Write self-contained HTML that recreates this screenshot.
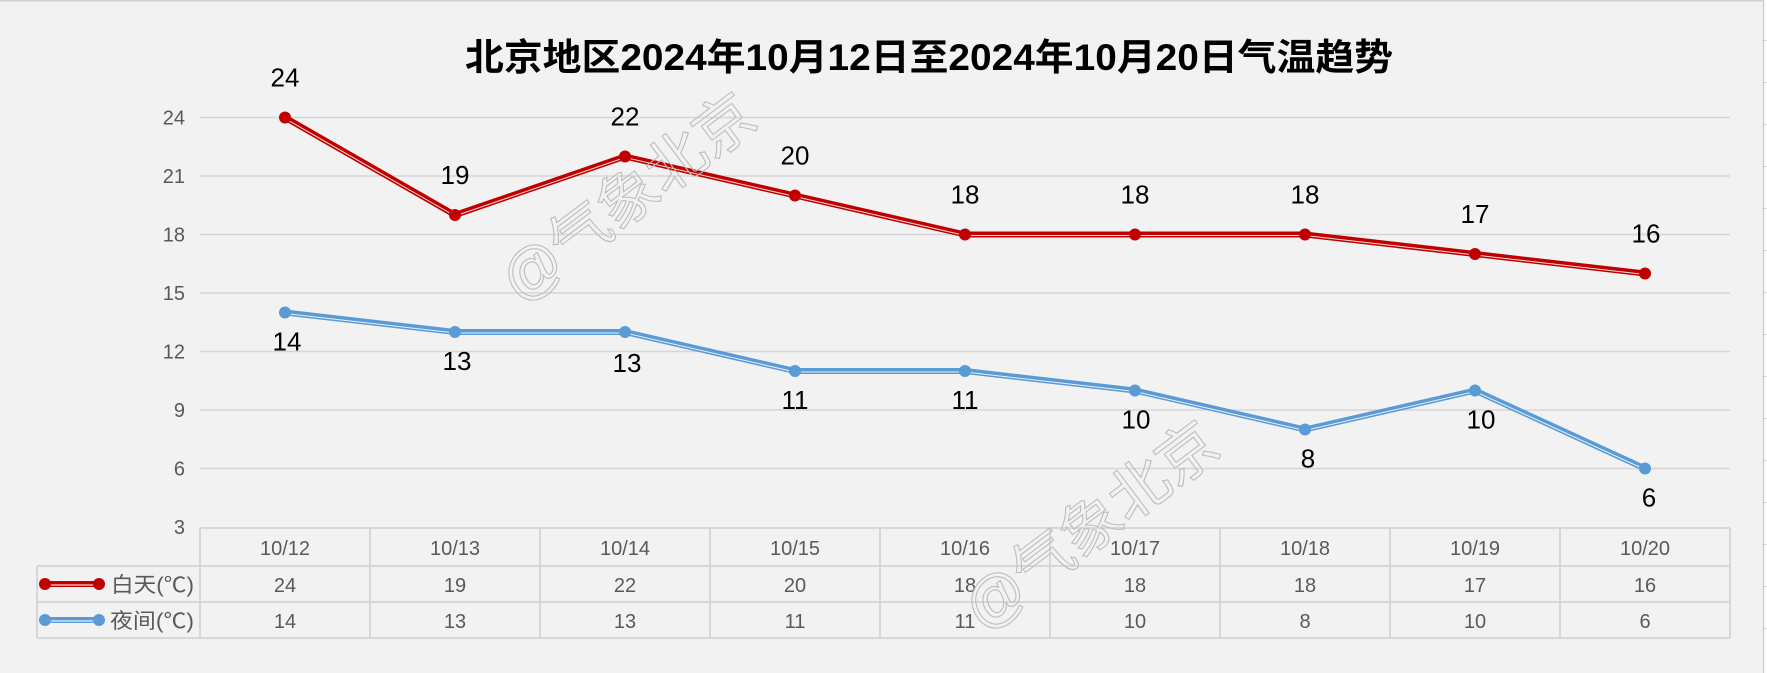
<!DOCTYPE html>
<html><head><meta charset="utf-8"><style>
html,body{margin:0;padding:0;background:#f2f2f2;}
svg{display:block;}
text{font-family:"Liberation Sans","Noto Sans CJK SC",sans-serif;}
</style></head><body>
<svg width="1767" height="673" viewBox="0 0 1767 673" xmlns="http://www.w3.org/2000/svg">
<rect x="0" y="0" width="1767" height="673" fill="#f2f2f2"/>
<line x1="0" y1="0.8" x2="1764" y2="0.8" stroke="#d0d0d0" stroke-width="1.5"/>
<rect x="1764" y="0" width="3" height="673" fill="#ffffff"/>
<line x1="1763.5" y1="0" x2="1763.5" y2="673" stroke="#cfcfcf" stroke-width="1.5"/>
<g stroke="#d4d4d4" stroke-width="1">
<line x1="1764" y1="40.5" x2="1767" y2="40.5"/><line x1="1764" y1="82.5" x2="1767" y2="82.5"/><line x1="1764" y1="124.5" x2="1767" y2="124.5"/><line x1="1764" y1="166.5" x2="1767" y2="166.5"/><line x1="1764" y1="208.5" x2="1767" y2="208.5"/><line x1="1764" y1="250.5" x2="1767" y2="250.5"/><line x1="1764" y1="292.5" x2="1767" y2="292.5"/><line x1="1764" y1="334.5" x2="1767" y2="334.5"/><line x1="1764" y1="376.5" x2="1767" y2="376.5"/><line x1="1764" y1="418.5" x2="1767" y2="418.5"/><line x1="1764" y1="460.5" x2="1767" y2="460.5"/><line x1="1764" y1="502.5" x2="1767" y2="502.5"/><line x1="1764" y1="544.5" x2="1767" y2="544.5"/><line x1="1764" y1="586.5" x2="1767" y2="586.5"/><line x1="1764" y1="628.5" x2="1767" y2="628.5"/>
</g>

<!-- title -->
<text x="465" y="70" font-size="37" font-weight="bold" fill="#000" textLength="928" lengthAdjust="spacingAndGlyphs">北京地区2024年10月12日至2024年10月20日气温趋势</text>

<!-- gridlines -->
<g stroke="#d6d6d6" stroke-width="1.5">
<line x1="200" y1="117.5" x2="1730" y2="117.5"/>
<line x1="200" y1="176" x2="1730" y2="176"/>
<line x1="200" y1="234.5" x2="1730" y2="234.5"/>
<line x1="200" y1="293" x2="1730" y2="293"/>
<line x1="200" y1="351.5" x2="1730" y2="351.5"/>
<line x1="200" y1="410" x2="1730" y2="410"/>
<line x1="200" y1="468.5" x2="1730" y2="468.5"/>
</g>

<!-- y tick labels -->
<g font-size="20" fill="#595959" text-anchor="end">
<text x="185" y="124.5">24</text>
<text x="185" y="183">21</text>
<text x="185" y="241.5">18</text>
<text x="185" y="300">15</text>
<text x="185" y="358.5">12</text>
<text x="185" y="417">9</text>
<text x="185" y="475.5">6</text>
<text x="185" y="534">3</text>
</g>

<!-- table -->
<g stroke="#d4d4d4" stroke-width="1.8" fill="none">
<line x1="200" y1="528" x2="1730" y2="528"/>
<line x1="37" y1="566" x2="1730" y2="566"/>
<line x1="37" y1="602" x2="1730" y2="602"/>
<line x1="37" y1="638" x2="1730" y2="638"/>
<line x1="37" y1="566" x2="37" y2="638"/>
<line x1="200" y1="528" x2="200" y2="638"/>
<line x1="370" y1="528" x2="370" y2="638"/>
<line x1="540" y1="528" x2="540" y2="638"/>
<line x1="710" y1="528" x2="710" y2="638"/>
<line x1="880" y1="528" x2="880" y2="638"/>
<line x1="1050" y1="528" x2="1050" y2="638"/>
<line x1="1220" y1="528" x2="1220" y2="638"/>
<line x1="1390" y1="528" x2="1390" y2="638"/>
<line x1="1560" y1="528" x2="1560" y2="638"/>
<line x1="1730" y1="528" x2="1730" y2="638"/>
</g>
<g font-size="20" fill="#595959" text-anchor="middle">
<text x="285" y="555">10/12</text><text x="455" y="555">10/13</text><text x="625" y="555">10/14</text><text x="795" y="555">10/15</text><text x="965" y="555">10/16</text><text x="1135" y="555">10/17</text><text x="1305" y="555">10/18</text><text x="1475" y="555">10/19</text><text x="1645" y="555">10/20</text>
<text x="285" y="592">24</text><text x="455" y="592">19</text><text x="625" y="592">22</text><text x="795" y="592">20</text><text x="965" y="592">18</text><text x="1135" y="592">18</text><text x="1305" y="592">18</text><text x="1475" y="592">17</text><text x="1645" y="592">16</text>
<text x="285" y="628">14</text><text x="455" y="628">13</text><text x="625" y="628">13</text><text x="795" y="628">11</text><text x="965" y="628">11</text><text x="1135" y="628">10</text><text x="1305" y="628">8</text><text x="1475" y="628">10</text><text x="1645" y="628">6</text>
</g>
<!-- legend keys -->
<line x1="45" y1="584" x2="99" y2="584" stroke="#c00000" stroke-width="6"/>
<line x1="45" y1="585" x2="99" y2="585" stroke="#ffffff" stroke-width="1"/>
<circle cx="45" cy="584" r="6" fill="#c00000"/><circle cx="99" cy="584" r="6" fill="#c00000"/>
<line x1="45" y1="620" x2="99" y2="620" stroke="#5b9bd5" stroke-width="6"/>
<line x1="45" y1="621" x2="99" y2="621" stroke="#ffffff" stroke-width="1"/>
<circle cx="45" cy="620" r="6" fill="#5b9bd5"/><circle cx="99" cy="620" r="6" fill="#5b9bd5"/>
<g font-size="21" fill="#595959">
<text x="111" y="592" textLength="83" lengthAdjust="spacingAndGlyphs">白天(℃)</text>
<text x="110" y="628" textLength="84" lengthAdjust="spacingAndGlyphs">夜间(℃)</text>
</g>

<!-- red series -->
<polyline fill="none" stroke="#c00000" stroke-width="6" stroke-linejoin="round" points="285,117.5 455,215 625,156.5 795,195.5 965,234.5 1135,234.5 1305,234.5 1475,254 1645,273.5"/>
<polyline fill="none" stroke="#ffffff" stroke-width="1" stroke-opacity="0.85" points="285,118.5 455,216 625,157.5 795,196.5 965,235.5 1135,235.5 1305,235.5 1475,255 1645,274.5"/>
<g fill="#c00000">
<circle cx="285" cy="117.5" r="6"/><circle cx="455" cy="215" r="6"/><circle cx="625" cy="156.5" r="6"/><circle cx="795" cy="195.5" r="6"/><circle cx="965" cy="234.5" r="6"/><circle cx="1135" cy="234.5" r="6"/><circle cx="1305" cy="234.5" r="6"/><circle cx="1475" cy="254" r="6"/><circle cx="1645" cy="273.5" r="6"/>
</g>
<!-- blue series -->
<polyline fill="none" stroke="#5b9bd5" stroke-width="6" stroke-linejoin="round" points="285,312.5 455,332 625,332 795,371 965,371 1135,390.5 1305,429.5 1475,390.5 1645,468.5"/>
<polyline fill="none" stroke="#ffffff" stroke-width="1" stroke-opacity="0.85" points="285,313.5 455,333 625,333 795,372 965,372 1135,391.5 1305,430.5 1475,391.5 1645,469.5"/>
<g fill="#5b9bd5">
<circle cx="285" cy="312.5" r="6"/><circle cx="455" cy="332" r="6"/><circle cx="625" cy="332" r="6"/><circle cx="795" cy="371" r="6"/><circle cx="965" cy="371" r="6"/><circle cx="1135" cy="390.5" r="6"/><circle cx="1305" cy="429.5" r="6"/><circle cx="1475" cy="390.5" r="6"/><circle cx="1645" cy="468.5" r="6"/>
</g>

<!-- data labels -->
<g font-size="26" fill="#000" text-anchor="middle">
<text x="285" y="86.5">24</text><text x="455" y="184">19</text><text x="625" y="125.5">22</text><text x="795" y="164.5">20</text><text x="965" y="203.5">18</text><text x="1135" y="203.5">18</text><text x="1305" y="203.5">18</text><text x="1475" y="223">17</text><text x="1646" y="242.5">16</text>
<text x="287" y="350.5">14</text><text x="457" y="370">13</text><text x="627" y="372">13</text><text x="795" y="409">11</text><text x="965" y="409">11</text><text x="1136" y="428.5">10</text><text x="1308" y="467.5">8</text><text x="1481" y="428.5">10</text><text x="1649" y="506.5">6</text>
</g>

<!-- watermarks -->
<g font-size="60" fill="none" stroke="#bdbdbd" stroke-width="1.1" text-anchor="middle">
<text x="0" y="0" dominant-baseline="central" transform="translate(628,198) rotate(-37)">@气象北京</text>
<text x="0" y="0" dominant-baseline="central" transform="translate(1091,526) rotate(-37)">@气象北京</text>
</g>
</svg>
</body></html>
